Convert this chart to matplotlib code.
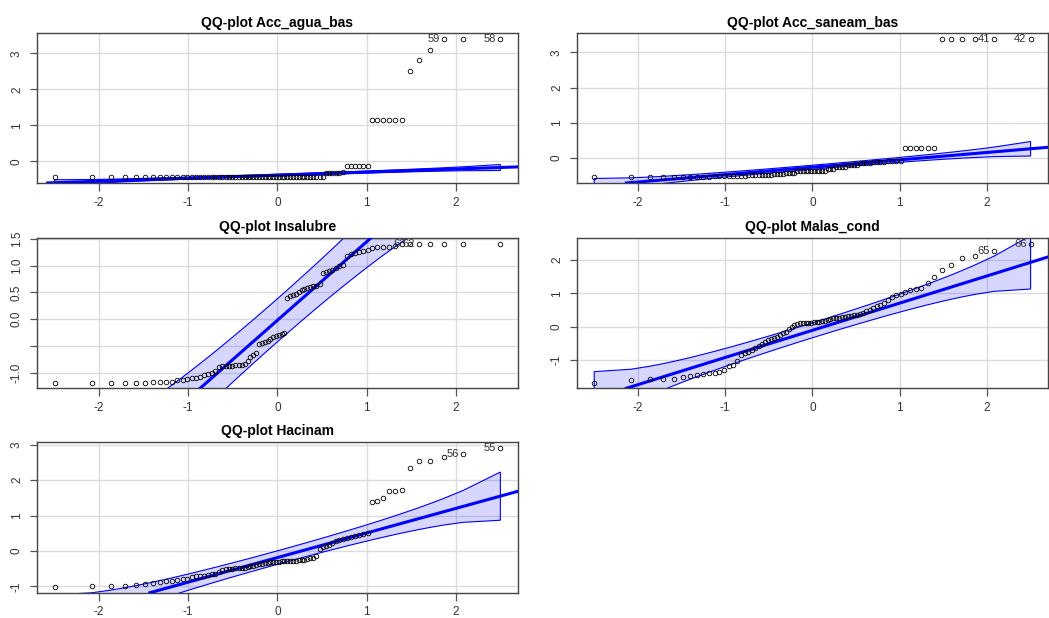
import numpy as np
import matplotlib
matplotlib.use('Agg')
import matplotlib.pyplot as plt
from statistics import NormalDist

plt.rcParams['font.family'] = ['Liberation Sans', 'DejaVu Sans']

### Data (sorted sample values) ###

acc_agua_bas = [-0.45, -0.45, -0.45, -0.45, -0.45, -0.45, -0.45, -0.45, -0.45, -0.45,
                -0.45, -0.45, -0.45, -0.45, -0.45, -0.45, -0.45, -0.45, -0.45, -0.45,
                -0.45, -0.45, -0.45, -0.45, -0.45, -0.45, -0.45, -0.45, -0.45, -0.45,
                -0.45, -0.45, -0.45, -0.45, -0.45, -0.45, -0.45, -0.45, -0.45, -0.45,
                -0.45, -0.45, -0.45, -0.43, -0.43, -0.43, -0.43, -0.43, -0.43, -0.43,
                -0.43, -0.43, -0.43, -0.43, -0.43, -0.43, -0.33, -0.33, -0.33, -0.33,
                -0.33, -0.30, -0.13, -0.13, -0.13, -0.13, -0.13, -0.13, 1.15, 1.15,
                1.15, 1.15, 1.15, 1.15, 2.52, 2.82, 3.09, 3.40, 3.40, 3.40]

acc_saneam_bas = [-0.55, -0.55, -0.55, -0.55, -0.55, -0.54, -0.53, -0.53, -0.53, -0.53,
                  -0.52, -0.52, -0.52, -0.52, -0.50, -0.50, -0.50, -0.50, -0.49, -0.49,
                  -0.49, -0.49, -0.47, -0.47, -0.47, -0.47, -0.44, -0.44, -0.44, -0.44,
                  -0.41, -0.41, -0.41, -0.41, -0.38, -0.38, -0.38, -0.38, -0.38, -0.38,
                  -0.38, -0.38, -0.36, -0.36, -0.36, -0.30, -0.30, -0.30, -0.26, -0.26,
                  -0.26, -0.26, -0.20, -0.20, -0.20, -0.20, -0.15, -0.15, -0.15, -0.15,
                  -0.12, -0.12, -0.12, -0.12, -0.08, -0.08, -0.08, -0.08, 0.30, 0.30,
                  0.30, 0.30, 0.30, 0.30, 3.38, 3.38, 3.38, 3.38, 3.38, 3.38]

insalubre = [-1.19, -1.19, -1.19, -1.19, -1.19, -1.19, -1.17, -1.17, -1.17, -1.17,
             -1.14, -1.13, -1.12, -1.11, -1.10, -1.08, -1.05, -1.03, -1.00, -0.97,
             -0.90, -0.88, -0.88, -0.87, -0.87, -0.86, -0.86, -0.85, -0.84, -0.78,
             -0.70, -0.67, -0.64, -0.47, -0.45, -0.43, -0.40, -0.37, -0.34, -0.32,
             -0.30, -0.28, -0.26, 0.40, 0.44, 0.46, 0.48, 0.51, 0.54, 0.56,
             0.58, 0.60, 0.62, 0.63, 0.66, 0.86, 0.88, 0.90, 0.92, 0.95,
             1.00, 1.02, 1.19, 1.22, 1.24, 1.26, 1.28, 1.30, 1.34, 1.35,
             1.35, 1.36, 1.37, 1.40, 1.41, 1.41, 1.41, 1.41, 1.41, 1.41]

malas_cond = [-1.68, -1.60, -1.57, -1.57, -1.56, -1.51, -1.47, -1.46, -1.42, -1.40,
              -1.39, -1.36, -1.31, -1.18, -1.16, -1.03, -0.86, -0.80, -0.77, -0.70,
              -0.63, -0.59, -0.52, -0.45, -0.40, -0.36, -0.33, -0.30, -0.26, -0.20,
              -0.15, -0.08, -0.02, 0.06, 0.09, 0.11, 0.11, 0.12, 0.12, 0.12,
              0.13, 0.14, 0.15, 0.16, 0.18, 0.21, 0.23, 0.25, 0.26, 0.27,
              0.28, 0.30, 0.31, 0.33, 0.34, 0.35, 0.37, 0.42, 0.47, 0.50,
              0.55, 0.62, 0.65, 0.72, 0.80, 0.88, 0.94, 0.99, 1.04, 1.10,
              1.14, 1.17, 1.30, 1.48, 1.71, 1.86, 2.05, 2.13, 2.26, 2.48]

hacinam = [-1.02, -0.99, -0.98, -0.98, -0.96, -0.94, -0.90, -0.88, -0.86, -0.84,
           -0.81, -0.80, -0.79, -0.72, -0.70, -0.70, -0.70, -0.68, -0.66, -0.64,
           -0.59, -0.55, -0.52, -0.50, -0.50, -0.49, -0.48, -0.48, -0.47, -0.45,
           -0.43, -0.41, -0.39, -0.37, -0.36, -0.34, -0.33, -0.32, -0.31, -0.30,
           -0.30, -0.29, -0.29, -0.28, -0.28, -0.27, -0.27, -0.26, -0.25, -0.24,
           -0.22, -0.21, -0.19, -0.15, 0.05, 0.10, 0.15, 0.18, 0.22, 0.27,
           0.31, 0.33, 0.37, 0.40, 0.43, 0.45, 0.48, 0.50, 1.37, 1.41,
           1.49, 1.68, 1.69, 1.73, 2.35, 2.53, 2.53, 2.66, 2.74, 2.91]

titles = ['QQ-plot Acc_agua_bas', 'QQ-plot Acc_saneam_bas', 'QQ-plot Insalubre',
          'QQ-plot Malas_cond', 'QQ-plot Hacinam']

# reference line (intercept, slope) as drawn
intercepts = [-0.385, -0.26, -0.02, -0.11, -0.185]
slopes = [0.085, 0.21, 1.47, 0.815, 0.694]

# identified points: (rank, row label)
id_points = [[(78, '59'), (80, '58')],
             [(79, '41'), (80, '42')],
             [(75, '63'), (76, '62')],
             [(79, '65'), (80, '66')],
             [(79, '56'), (80, '55')]]

yticks = [[0, 1, 2, 3],
          [0, 1, 2, 3],
          [-1.0, -0.5, 0.0, 0.5, 1.0, 1.5],
          [-1, 0, 1, 2],
          [-1, 0, 1, 2, 3]]
yticklabels = [['0', '1', '2', '3'],
               ['0', '1', '2', '3'],
               ['-1.0', '', '0.0', '0.5', '1.0', '1.5'],
               ['-1', '0', '1', '2'],
               ['-1', '0', '1', '2', '3']]
xticks = [-2, -1, 0, 1, 2]

series = [acc_agua_bas, acc_saneam_bas, insalubre, malas_cond, hacinam]

### Plot ###

fig = plt.figure(figsize=(10.49, 6.18), dpi=100)

left_x, left_w = 0.035, 0.459
right_x, right_w = 0.5498, 0.4493
rows = [(0.7039, 0.2419), (0.3717, 0.2427), (0.0409, 0.2434)]
boxes = [(left_x, rows[0][0], left_w, rows[0][1]),
         (right_x, rows[0][0], right_w, rows[0][1]),
         (left_x, rows[1][0], left_w, rows[1][1]),
         (right_x, rows[1][0], right_w, rows[1][1]),
         (left_x, rows[2][0], left_w, rows[2][1])]

nd = NormalDist()

for k in range(len(series)):
    ax = fig.add_axes(boxes[k])
    y = np.array(series[k])
    n = len(y)
    P = (np.arange(1, n + 1) - 0.5) / n
    z = np.array([nd.inv_cdf(p) for p in P])
    dens = np.array([nd.pdf(v) for v in z])

    a, b = intercepts[k], slopes[k]
    # pointwise 95% envelope
    se = (b / dens) * np.sqrt(P * (1 - P) / n)
    fit = a + b * z
    upper = fit + 1.96 * se
    lower = fit - 1.96 * se

    ax.fill(np.r_[z, z[::-1]], np.r_[upper, lower[::-1]],
            facecolor=(0, 0, 1, 0.16), edgecolor='blue', lw=0.8, zorder=2)
    ax.axline((0, a), slope=b, color='blue', lw=2.2, zorder=3)
    ax.plot(z, y, 'o', mfc='none', mec='black', ms=3.3, mew=0.6, zorder=4)

    for rank, lab in id_points[k]:
        ax.annotate(lab, (z[rank - 1], y[rank - 1]), xytext=(-3, 0),
                    textcoords='offset points', ha='right', va='center',
                    fontsize=8, color='#333333', zorder=5)

    zr = z.max() - z.min()
    yr = y.max() - y.min()
    ax.set_xlim(z.min() - 0.04 * zr, z.max() + 0.04 * zr)
    ax.set_ylim(y.min() - 0.04 * yr, y.max() + 0.04 * yr)

    ax.set_xticks(xticks)
    ax.set_xticklabels([str(t) for t in xticks])
    ax.set_yticks(yticks[k])
    ax.set_yticklabels(yticklabels[k])
    ax.grid(True, color='#dcdcdc', lw=1.0)
    ax.set_axisbelow(True)

    ax.tick_params(axis='both', length=5.4, width=0.9, color='#555555',
                   labelsize=8.5, labelcolor='#333333')
    ax.tick_params(axis='x', pad=4.5)
    ax.tick_params(axis='y', pad=4.5, labelrotation=90)
    for lbl in ax.get_yticklabels():
        lbl.set_va('center')
    for sp in ax.spines.values():
        sp.set_color('#444444')
        sp.set_linewidth(1.0)

    ax.set_title(titles[k], fontsize=10, fontweight='bold', pad=5)

fig.savefig('out.png', dpi=100)
